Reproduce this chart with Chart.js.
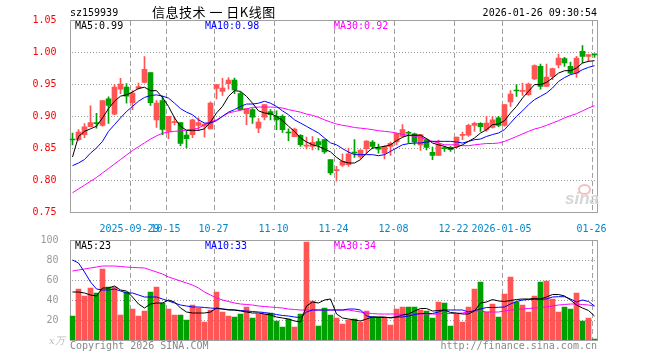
<!DOCTYPE html>
<html>
<head>
<meta charset="utf-8">
<script src="https://cdn.jsdelivr.net/npm/chart.js@4"></script>
<style>
    body { margin: 0; background: #fff; overflow: hidden; }
    #wrap { position: relative; width: 660px; height: 360px; font-family: "DejaVu Sans Mono", monospace; font-size: 10px; }
    #wrap canvas { position: absolute; left: 0; top: 0; pointer-events: none; }
    .txt { position: absolute; white-space: nowrap; line-height: 12px; }
</style>
</head>
<body>
<div id="wrap">
    <canvas id="kline" width="660" height="360"></canvas>
    <canvas id="vol" width="660" height="360"></canvas>

    <div class="txt" style="left:70px; top:7px;">sz159939</div>
    <div class="txt" style="left:152px; top:4px; font-family:'Noto Sans CJK SC'; font-size:13px; line-height:16px; letter-spacing:0.5px; white-space:pre;">信息技术 一 日K线图</div>
    <div class="txt" style="right:63px; top:7px;">2026-01-26 09:30:54</div>

    <div class="txt" style="left:75px; top:20px; color:#000;">MA5:0.99</div>
    <div class="txt" style="left:205px; top:20px; color:#0000ff;">MA10:0.98</div>
    <div class="txt" style="left:334px; top:20px; color:#ff00ff;">MA30:0.92</div>

    <div class="txt" style="left:75px; top:240px; color:#000;">MA5:23</div>
    <div class="txt" style="left:205px; top:240px; color:#0000ff;">MA10:33</div>
    <div class="txt" style="left:334px; top:240px; color:#ff00ff;">MA30:34</div>

    <div class="txt" style="left:49px; top:335px; color:#bbb; font-family:'DejaVu Serif'; font-style:italic;">x万</div>
    <div class="txt" style="left:70px; top:340px; color:#888;">Copyright 2026 SINA.COM</div>
    <div class="txt" style="right:63px; top:340px; color:#888;">http://finance.sina.com.cn</div>

    <div class="txt" style="left:565px; top:190px; color:#d6d6d6; font-family:'Liberation Sans'; font-weight:bold; font-style:italic; font-size:17px; line-height:18px;">sina</div>
    <div style="position:absolute; left:578px; top:184px; width:9px; height:7px; border:2px solid #f3c0c0; border-radius:50%;"></div>
</div>
<script>
// trading days shown on the chart
const dates = [
    '2025-09-15','2025-09-16','2025-09-17','2025-09-18','2025-09-19','2025-09-22','2025-09-23','2025-09-24','2025-09-25','2025-09-26','2025-09-29','2025-09-30',
    '2025-10-09','2025-10-10','2025-10-13','2025-10-14','2025-10-15','2025-10-16','2025-10-17','2025-10-20','2025-10-21','2025-10-22','2025-10-23','2025-10-24','2025-10-27','2025-10-28','2025-10-29','2025-10-30','2025-10-31',
    '2025-11-03','2025-11-04','2025-11-05','2025-11-06','2025-11-07','2025-11-10','2025-11-11','2025-11-12','2025-11-13','2025-11-14','2025-11-17','2025-11-18','2025-11-19','2025-11-20','2025-11-21','2025-11-24','2025-11-25','2025-11-26','2025-11-27','2025-11-28',
    '2025-12-01','2025-12-02','2025-12-03','2025-12-04','2025-12-05','2025-12-08','2025-12-09','2025-12-10','2025-12-11','2025-12-12','2025-12-15','2025-12-16','2025-12-17','2025-12-18','2025-12-19','2025-12-22','2025-12-23','2025-12-24','2025-12-25','2025-12-26','2025-12-29','2025-12-30','2025-12-31',
    '2026-01-05','2026-01-06','2026-01-07','2026-01-08','2026-01-09','2026-01-12','2026-01-13','2026-01-14','2026-01-15','2026-01-16','2026-01-19','2026-01-20','2026-01-21','2026-01-22','2026-01-23','2026-01-26'
];

// dates that get a label and a dashed line
const tickText = {
    '2025-09-29': '2025-09-29', '2025-10-15': '10-15', '2025-10-27': '10-27', '2025-11-10': '11-10',
    '2025-11-24': '11-24', '2025-12-08': '12-08', '2025-12-22': '12-22', '2026-01-05': '2026-01-05', '2026-01-26': '01-26'
};

const open = [
    .8630,.8630,.8710,.8833,.8885,.8854,.9270,.9030,.9420,.9450,.9210,.9430,.9526,.9677,.8940,.9240,.8760,.8896,.8896,.8700,.8710,.8854,
    .8840,.8800,.9430,.9385,.9505,.9560,.9350,.9036,.9100,.8810,.8980,.9070,.8995,.8995,.8740,.8677,.8698,.8530,.8526,.8600,.8630,.8318,
    .8146,.8230,.8240,.8427,.8360,.8490,.8594,.8484,.8420,.8526,.8594,.8680,.8734,.8720,.8550,.8630,.8432,.8385,.8495,.8510,.8516,.8698,
    .8700,.8854,.8885,.8786,.8820,.8970,.8854,.9220,.9396,.9385,.9333,.9578,.9776,.9464,.9620,.9800,.9896,.9776,.9670,1.0010,.9932,.9960
];
const high = [
    .8734,.8786,.8880,.9160,.9040,.9240,.9300,.9490,.9590,.9505,.9396,.9516,.9930,.9677,.9240,.9310,.8995,.8980,.8896,.8760,.8953,.8970,
    .8880,.9220,.9490,.9590,.9600,.9594,.9375,.9115,.9115,.8960,.9180,.9100,.9080,.9020,.8800,.8810,.8710,.8670,.8680,.8646,.8630,.8320,
    .8214,.8410,.8500,.8630,.8470,.8615,.8615,.8560,.8536,.8594,.8734,.8865,.8760,.8734,.8710,.8646,.8516,.8625,.8526,.8526,.8670,.8750,
    .8875,.8906,.8896,.8995,.8995,.8995,.9180,.9396,.9490,.9516,.9516,.9800,.9813,.9813,.9750,.9969,.9917,.9844,.9932,1.0099,.9958,.9969
];
const low = [
    .8550,.8620,.8660,.8830,.8810,.8840,.8885,.9020,.9350,.9200,.9100,.9420,.9516,.9167,.8820,.8710,.8646,.8860,.8537,.8500,.8660,.8770,
    .8670,.8800,.9266,.9320,.9420,.9350,.9090,.8865,.8885,.8740,.8940,.8940,.8786,.8745,.8615,.8677,.8526,.8484,.8470,.8470,.8417,.8083,
    .7980,.8214,.8214,.8354,.8333,.8420,.8490,.8420,.8330,.8385,.8550,.8670,.8578,.8550,.8464,.8470,.8318,.8385,.8448,.8448,.8500,.8630,
    .8680,.8760,.8760,.8760,.8810,.8833,.8840,.9150,.9307,.9320,.9320,.9568,.9420,.9464,.9568,.9750,.9776,.9656,.9604,.9828,.9854,.9917
];
const close = [
    .8625,.8750,.8830,.8896,.8880,.9240,.9167,.9450,.9500,.9310,.9360,.9460,.9730,.9210,.9200,.8790,.8995,.8900,.8570,.8646,.8940,.8896,
    .8875,.9200,.9490,.9437,.9560,.9406,.9100,.9115,.8980,.8906,.9177,.9020,.8940,.8786,.8734,.8797,.8552,.8537,.8589,.8550,.8437,.8110,
    .8150,.8290,.8410,.8420,.8469,.8610,.8526,.8480,.8526,.8573,.8724,.8786,.8730,.8594,.8710,.8510,.8385,.8560,.8490,.8474,.8670,.8710,
    .8854,.8885,.8833,.8890,.8940,.8854,.9177,.9344,.9390,.9390,.9500,.9786,.9464,.9610,.9740,.9906,.9828,.9670,.9906,.9932,.9958,.9955
];

// price moving averages as drawn on the picture
const ma5 = [
    .836,.868,.876,.880,.884,.897,.9115,.923,.931,.933,.9375,.943,.945,.9396,.9396,.929,.915,.897,.884,.8776,.8776,.8776,
    .880,.8906,.9047,.915,.9307,.9396,.9385,.9307,.920,.908,.9047,.9036,.8995,.893,.884,.876,.8656,.8594,.855,.8526,.8484,.844,
    .8354,.829,.8266,.8266,.8318,.842,.850,.851,.8526,.855,.8615,.8667,.870,.870,.870,.8646,.8578,.855,.8526,.849,.851,.855,
    .8604,.8656,.8734,.8786,.8865,.8875,.8927,.9047,.915,.928,.9385,.949,.949,.9526,.9594,.967,.9708,.9708,.975,.9828,.9854,.9865
];
const ma10 = [
    .8224,.8266,.832,.842,.850,.8604,.876,.8865,.897,.907,.915,.923,.929,.932,.933,.931,.928,.920,.9115,.906,.902,.894,
    .889,.889,.8927,.8995,.906,.910,.915,.9187,.9187,.920,.923,.920,.915,.908,.902,.894,.889,.8838,.8786,.8734,.8656,.858,
    .855,.849,.8437,.8396,.8396,.8396,.8396,.838,.8396,.8448,.850,.855,.8568,.8578,.8578,.8594,.8604,.8604,.8604,.8604,.8594,.8578,
    .8604,.863,.864,.868,.871,.8734,.8786,.889,.8995,.908,.9177,.9255,.9307,.936,.9437,.954,.960,.9646,.967,.9724,.976,.9786
];
const ma30 = [
    .780,.786,.792,.798,.804,.811,.818,.825,.832,.839,.846,.852,.858,.864,.869,.873,.875,.876,.877,.878,.879,.881,
    .8865,.8906,.894,.8995,.9047,.907,.909,.911,.9135,.914,.914,.914,.9135,.9125,.910,.908,.906,.903,.901,.898,.894,.8906,
    .8875,.8854,.884,.882,.881,.880,.8786,.877,.876,.875,.8734,.871,.870,.868,.8667,.863,.8604,.8578,.855,.855,.855,.8536,
    .8536,.855,.856,.857,.857,.8578,.8604,.864,.868,.872,.876,.8797,.882,.8854,.889,.8927,.897,.9005,.9036,.908,.9125,.916
];

// volume in 万 and its moving averages
const volume = [
    24,51,44,52,47,71,53,53,25,48,31,24,29,48,53,37,31,25,25,20,35,32,
    18,30,48,28,24,23,26,33,22,26,26,27,19,13,21,13,26,98,39,14,32,25,
    22,16,20,21,18,29,23,23,22,15,31,33,33,33,30,29,22,38,37,14,26,18,
    33,51,58,28,36,23,46,63,38,35,28,44,58,59,41,28,33,31,47,19,22,1
];
const vma5 = [
    48,48,47,45,44,52,52,54,50,49,43,36,32,36,37,37,40,38,32,28,27,27,
    27,28,32,31,30,30,29,28,27,27,26,25,23,22,21,19,18,34,38,37,40,41,
    26,22,21,20,19,21,23,23,23,22,23,25,26,29,31.5,31.5,29,29.5,30,27.5,27,26,
    26,29,37,38,40.5,39,38.5,39.5,40.5,41,41,41.5,41,43,45.5,45.5,44,40,35,32,29.5,24
];
const vma10 = [
    80,77,68,58,51,50,50,51,49,47,47,45,43,43,43,41,39,37,35,34,33,33,
    32.5,32,31.5,31,30.5,30,29.5,29,28.5,28,27.5,26.5,25.5,24.5,24,23,22.5,28,30,30,30,30,
    30,30,31,31,30,24,23,22.5,22.5,22.5,23,23,24,25.5,26.5,26.5,26.5,28,30,30,30,30,
    28,29.5,31,32.5,32.5,32.7,33,36,38.5,40,40.5,40.7,40.7,41,43,43.3,43.3,41,38,40,38.5,34
];
const vma30 = [
    69,70,71,72,73,74,74,74,73.5,73,72.5,72.3,72,70,68,66,63,61,59,57,55,52,
    48,45,42,40,38.5,37,36,35.5,35,34,33.5,33,32.5,32,31,30.5,30,30,30,30,30,30,
    30,30,30,29,28,27,26.5,26,26,26,26,25.5,26,26,26,26,26,26,26.5,26.5,26.5,27,
    28,29,29,28,28,28,29,30,30.5,31,31.5,32,32.5,33,34,35,35.5,36,36,35.5,35,34
];

const RED = '#ff5555';
const GREEN = '#00a000';
const barColors = close.map((c, i) => c >= open[i] ? RED : GREEN);
const monoFont = { family: 'DejaVu Sans Mono', size: 10 };

// grid drawn by hand under the data: dashed date lines, dotted value lines, grey box
const frame = {
    id: 'frame',
    beforeDatasetsDraw(chart) {
        let a = chart.chartArea;
        let ctx = chart.ctx;
        let xs = chart.scales.x;
        let ys = chart.scales.y;
        let step = xs.getPixelForValue(1) - xs.getPixelForValue(0);
        let top = Math.round(a.top), bottom = Math.round(a.bottom);
        ctx.save();

        // dashed line at the left edge of each labelled day
        ctx.fillStyle = '#a0a0a0';
        for (let i = 0; i < dates.length; i++) {
            if (!tickText[dates[i]]) continue;
            let px = Math.round(xs.getPixelForValue(i) - step / 2);
            for (let y = top + 1; y < bottom; y += 8) {
                ctx.fillRect(px, y, 1, Math.min(5, bottom - y));
            }
        }

        // dotted line at each inner value tick
        ctx.fillStyle = '#999999';
        ys.ticks.forEach((t, k) => {
            if (k === 0 || k === ys.ticks.length - 1) return;
            let py = Math.round(ys.getPixelForValue(t.value));
            for (let x = Math.round(a.left) + 2; x < a.right - 1; x += 3) {
                ctx.fillRect(x, py, 1, 1);
            }
        });

        ctx.strokeStyle = '#a0a0a0';
        ctx.lineWidth = 1;
        ctx.strokeRect(a.left + 1, a.top + 0.5, a.right - a.left - 1, a.bottom - a.top);
        ctx.restore();
    }
};

function maLine(data, color) {
    return { type: 'line', data: data, borderColor: color, borderWidth: 1, pointRadius: 0, tension: 0, fill: false, order: 0 };
}

new Chart(document.getElementById('kline'), {
    type: 'bar',
    data: {
        labels: dates,
        datasets: [
            maLine(ma5, '#000000'),
            maLine(ma10, '#0000ff'),
            maLine(ma30, '#ff00ff'),
            // wick
            { data: dates.map((d, i) => [low[i], high[i]]), backgroundColor: barColors, barThickness: 1, order: 2 },
            // body
            { data: dates.map((d, i) => [open[i], close[i]]), backgroundColor: barColors, barThickness: 5, minBarLength: 1, order: 1 }
        ]
    },
    options: {
        responsive: false,
        animation: false,
        events: [],
        layout: { padding: { top: 20, right: 62.5, left: 0, bottom: 0 } },
        plugins: { legend: { display: false }, tooltip: { enabled: false } },
        datasets: { bar: { grouped: false } },
        scales: {
            x: {
                offset: true,
                grid: { display: false },
                border: { display: false },
                ticks: {
                    autoSkip: false, maxRotation: 0, minRotation: 0, padding: 3, labelOffset: -3,
                    color: '#0088cc', font: monoFont,
                    callback: (v, i) => tickText[dates[i]] || ''
                },
                afterFit: s => { s.height = 148; }
            },
            y: {
                min: 0.75, max: 1.05,
                grid: { display: false },
                border: { display: false },
                ticks: { stepSize: 0.05, padding: 5, color: '#ff0000', font: monoFont, callback: v => v.toFixed(2) },
                afterFit: s => { s.width = 69.5; }
            }
        }
    },
    plugins: [frame]
});

new Chart(document.getElementById('vol'), {
    type: 'bar',
    data: {
        labels: dates,
        datasets: [
            maLine(vma5, '#000000'),
            maLine(vma10, '#0000ff'),
            maLine(vma30, '#ff00ff'),
            { data: volume, backgroundColor: barColors, barThickness: 5, order: 1 }
        ]
    },
    options: {
        responsive: false,
        animation: false,
        events: [],
        layout: { padding: { top: 240, right: 62.5, left: 0, bottom: 0 } },
        plugins: { legend: { display: false }, tooltip: { enabled: false } },
        scales: {
            x: {
                offset: true,
                grid: { display: false },
                border: { display: false },
                ticks: { display: false, autoSkip: false, maxRotation: 0 },
                afterFit: s => { s.height = 20; }
            },
            y: {
                min: 0, max: 100,
                grid: { display: false },
                border: { display: false },
                ticks: { stepSize: 20, padding: 3, color: '#999', font: monoFont, callback: v => v === 0 ? '' : v },
                afterFit: s => { s.width = 69.5; }
            }
        }
    },
    plugins: [frame]
});
</script>
</body>
</html>
